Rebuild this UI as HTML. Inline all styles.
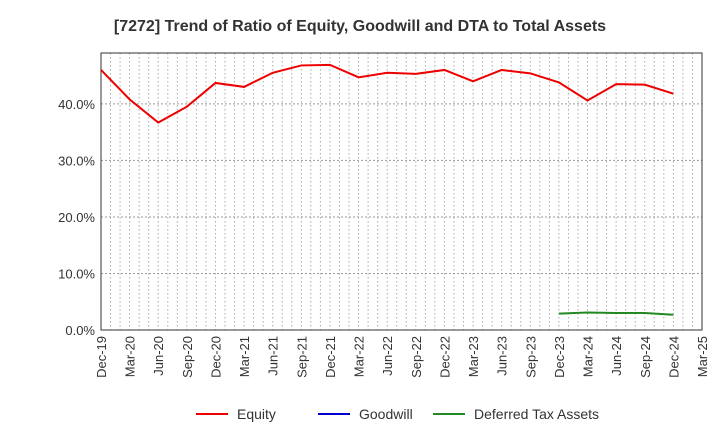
<!DOCTYPE html>
<html><head><meta charset="utf-8"><style>
body{margin:0;background:#fff;font-family:"Liberation Sans",sans-serif}
</style></head><body>
<svg id="c" width="720" height="440" xmlns="http://www.w3.org/2000/svg"></svg>
<script>
const categories=["Dec-19","Mar-20","Jun-20","Sep-20","Dec-20","Mar-21","Jun-21","Sep-21","Dec-21","Mar-22","Jun-22","Sep-22","Dec-22","Mar-23","Jun-23","Sep-23","Dec-23","Mar-24","Jun-24","Sep-24","Dec-24","Mar-25"];
const equity=[46.0,40.8,36.7,39.5,43.7,43.0,45.5,46.8,46.9,44.7,45.5,45.3,46.0,44.0,46.0,45.4,43.8,40.6,43.5,43.4,41.8,null];
const goodwill=[null,null,null,null,null,null,null,null,null,null,null,null,null,null,null,null,null,null,null,null,null,null];
const dta=[null,null,null,null,null,null,null,null,null,null,null,null,null,null,null,null,2.9,3.1,3.0,3.0,2.7,null];
const yTicks=[0,10,20,30,40];
const L=101,R=702,T=53,B=330,YMAX=49;
const NS="http://www.w3.org/2000/svg";
const svg=document.getElementById('c');
function x(i){return L+(R-L)*i/(categories.length-1);}
function y(v){return B-(B-T)*v/YMAX;}
function mk(t,a,txt){const e=document.createElementNS(NS,t);for(const k in a)e.setAttribute(k,a[k]);if(txt!=null)e.textContent=txt;svg.appendChild(e);return e;}
let e=mk('text',{x:360,y:31,'text-anchor':'middle','font-size':16,'font-weight':'bold',fill:'#333'},'[7272]  Trend of Ratio of Equity, Goodwill and DTA to Total Assets');


const months=(categories.length-1)*3;
for(let m=1;m<months;m++){const xx=L+(R-L)*m/months;
e=mk('line',{x1:xx,x2:xx,y1:T,y2:B,stroke:'#aaa','stroke-dasharray':'1.5,2.5','stroke-width':1});

}
yTicks.forEach(v=>{if(v>0){e=mk('line',{x1:L,x2:R,y1:y(v),y2:y(v),stroke:'#999','stroke-dasharray':'2,2'});

}
e=mk('text',{x:L-6,y:y(v)+5,'text-anchor':'end','font-size':13,fill:'#333'},v.toFixed(1)+'%');

});
e=mk('rect',{x:L,y:T,width:R-L,height:B-T,fill:'none',stroke:'#333','stroke-width':1});


categories.forEach((c,i)=>{e=mk('text',{transform:`translate(${x(i)+5},${B+6}) rotate(-90)`,'text-anchor':'end','font-size':13,fill:'#333'},c);

});
function series(d,col,name){let p='';d.forEach((v,i)=>{if(v!=null)p+=(p?'L':'M')+x(i)+','+y(v);});
if(!p)return;e=mk('path',{d:p,fill:'none',stroke:col,'stroke-width':2});

}
series(equity,'#ee0000','equity-line');
series(goodwill,'#0000cc','goodwill-line');
series(dta,'#228822','dta-line');
[["Equity","#ee0000",196],["Goodwill","#0000cc",318],["Deferred Tax Assets","#228822",433]].forEach(l=>{
e=mk('line',{x1:l[2],x2:l[2]+32,y1:414,y2:414,stroke:l[1],'stroke-width':2});


e=mk('text',{x:l[2]+41,y:419,'font-size':14,fill:'#333'},l[0]);

});
</script>
</body></html>
